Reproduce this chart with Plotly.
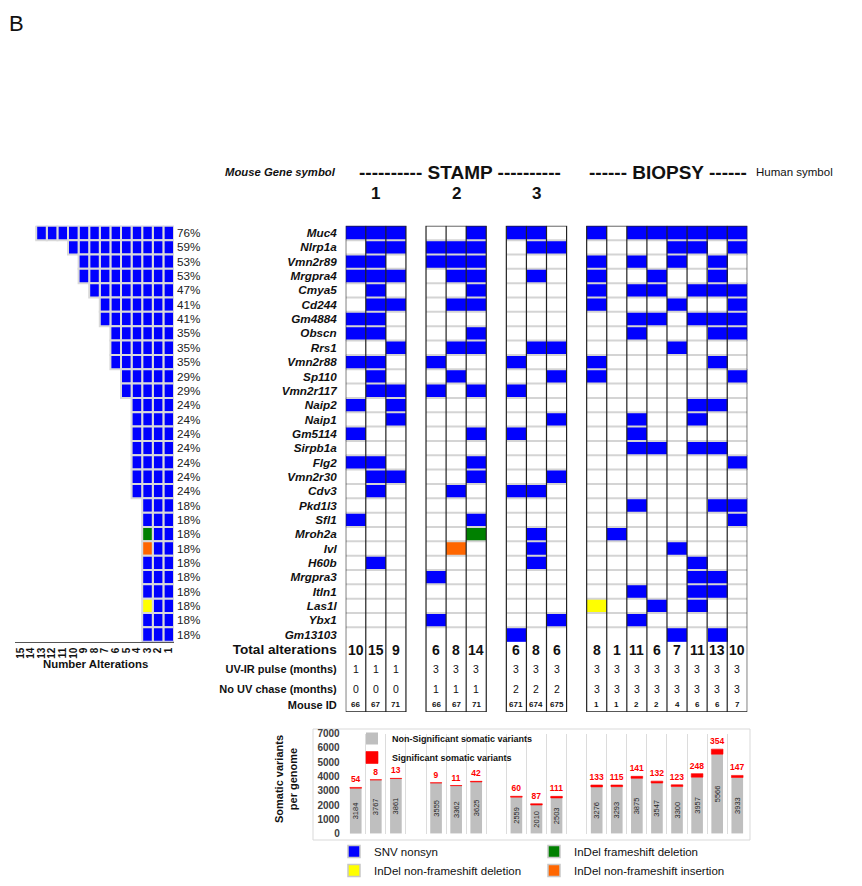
import plotly.graph_objects as go

W, H = 862, 886
OFF = 8                                  # page body margin of the browser
FW, FH = W - OFF, H                      # figure size (keeps legends fully inside the paper)
FONT = "Liberation Sans, Arial, Helvetica, sans-serif"

# ---------------- data ----------------
genes = ["Muc4", "Nlrp1a", "Vmn2r89", "Mrgpra4", "Cmya5", "Cd244", "Gm4884", "Obscn", "Rrs1",
         "Vmn2r88", "Sp110", "Vmn2r117", "Naip2", "Naip1", "Gm5114", "Sirpb1a", "Flg2", "Vmn2r30",
         "Cdv3", "Pkd1l3", "Sfl1", "Mroh2a", "Ivl", "H60b", "Mrgpra3", "Itln1", "Las1l", "Ybx1", "Gm13103"]
human_symbols = ["MUC4", "NLRP1", "No human ortholog", "No human ortholog", "CMYA5", "CD244",
                 "No human ortholog", "OBSCN", "RRS1", "No human ortholog", "SP110", "No human ortholog",
                 "NAIP", "NAIP", "No human ortholog", "SIRPB1", "FLG2", "No human ortholog", "CDV3",
                 "PKD1L3", "SFI1", "MROH2A", "IVL", "No human ortholog", "No human ortholog", "ITLN2",
                 "LAS1L", "YBX1", "No human ortholog"]
pct_labels = ["76%", "59%", "53%", "53%", "47%", "41%", "41%", "35%", "35%", "35%", "29%", "29%",
              "24%", "24%", "24%", "24%", "24%", "24%", "24%", "18%", "18%", "18%", "18%", "18%",
              "18%", "18%", "18%", "18%", "18%"]
waffle_ticks = list(range(1, 16))

# alteration codes: 0 none, 1 SNV nonsyn, 2 InDel frameshift deletion,
# 3 InDel non-frameshift deletion, 4 InDel non-frameshift insertion
stamp1 = ["111", "011", "110", "111", "010", "011", "110", "110", "001", "110", "010", "011", "101",
          "001", "100", "000", "110", "011", "010", "000", "100", "000", "000", "010", "000", "000",
          "000", "000", "000"]
stamp2 = ["001", "111", "111", "011", "001", "011", "000", "001", "011", "100", "010", "101", "000",
          "000", "001", "000", "001", "001", "010", "000", "001", "002", "040", "000", "100", "000",
          "000", "100", "000"]
stamp3 = ["110", "011", "000", "010", "000", "000", "000", "000", "011", "100", "001", "100", "000",
          "001", "100", "000", "000", "001", "110", "000", "000", "010", "010", "010", "000", "000",
          "000", "001", "100"]
biopsy = ["10111111", "00001101", "10101010", "10010010", "10110111", "10001001", "00110111",
          "00100011", "00001000", "10000010", "10000001", "00000000", "00000110", "00100100",
          "00100000", "00110110", "00000001", "00000000", "00000000", "00100011", "00000001",
          "01000000", "00001000", "00000100", "00000110", "00100110", "30010100", "00100000",
          "00001010"]

group_numbers = ["1", "2", "3"]
uv_pulse = [1, 1, 1, 3, 3, 3, 3, 3, 3, 3, 3, 3, 3, 3, 3, 3, 3]
no_uv_chase = [0, 0, 0, 1, 1, 1, 2, 2, 2, 3, 3, 3, 3, 3, 3, 3, 3]
mouse_id = ["66", "67", "71", "66", "67", "71", "671", "674", "675", "1", "1", "2", "2", "4", "6", "6", "7"]

nonsig_variants = [3184, 3767, 3861, 3555, 3362, 3625, 2559, 2010, 2503, 3276, 3293, 3875, 3547,
                   3300, 3957, 5566, 3933]
sig_variants = [54, 8, 13, 9, 11, 42, 60, 87, 111, 133, 115, 141, 132, 123, 248, 354, 147]
bar_yticks = [0, 1000, 2000, 3000, 4000, 5000, 6000, 7000]

alt_names = {"1": "SNV nonsyn", "2": "InDel frameshift deletion",
             "3": "InDel non-frameshift deletion", "4": "InDel non-frameshift insertion"}
alt_colors = {"0": "#ffffff", "1": "#0000ff", "2": "#008000", "3": "#ffff00", "4": "#ff6600"}


# ---------------- helpers ----------------
def px(x):
    return (x - OFF) / FW


def py(y):
    return 1 - (y - OFF) / FH


groups = [stamp1, stamp2, stamp3, biopsy]
col_pos, spans = [], []
start = 0
for g in groups:
    n = len(g[0])
    col_pos += list(range(start, start + n))
    spans.append((start, start + n - 1))
    start += n + 1
ncols = start - 1
ngenes = len(genes)
calls = ["".join(g[i] for g in groups) for i in range(ngenes)]
nsamp = len(calls[0])

z = [[None] * ncols for _ in range(ngenes)]
for i, row in enumerate(calls):
    for j, c in enumerate(row):
        z[i][col_pos[j]] = int(c)

cs = []
for k, code in enumerate("01234"):
    cs.append([k / 5, alt_colors[code]])
    cs.append([(k + 1) / 5, alt_colors[code]])

fig = go.Figure()

# oncoprint
fig.add_trace(go.Heatmap(z=z, x=list(range(ncols)), y=list(range(ngenes)), zmin=-0.5, zmax=4.5,
                         colorscale=cs, showscale=False, hoverongaps=False,
                         xaxis="x", yaxis="y"))

# waffle (number of alterations per gene)
wy, wb, wc = [], [], []
for i, row in enumerate(calls):
    codes = sorted([c for c in row if c != "0"], key=lambda c: (c != "1", c))
    for k, c in enumerate(codes):
        wy.append(i)
        wb.append(k + 0.5)
        wc.append(alt_colors[c])
fig.add_trace(go.Bar(y=wy, x=[1] * len(wy), base=wb, orientation="h", width=1,
                     marker=dict(color=wc, line=dict(color="#d9d9d9", width=2)),
                     showlegend=False, xaxis="x2", yaxis="y2", hoverinfo="skip"))

# bottom bar chart
fig.add_trace(go.Bar(x=col_pos, y=nonsig_variants, width=0.58, name="Non-Significant somatic variants",
                     marker=dict(color="#bfbfbf", line=dict(width=0)),
                     text=[str(v) for v in nonsig_variants], textposition="inside", textangle=-90,
                     insidetextanchor="middle", constraintext="none",
                     textfont=dict(size=7.5, color="#262626", family=FONT),
                     xaxis="x3", yaxis="y4", legend="legend"))
fig.add_trace(go.Bar(x=col_pos, y=sig_variants, base=nonsig_variants, width=0.58,
                     name="Significant somatic variants",
                     marker=dict(color="#ff0000", line=dict(color="#ff0000", width=0.6)),
                     text=[str(v) for v in sig_variants], textposition="outside", textangle=0,
                     constraintext="none",
                     textfont=dict(size=8.5, color="#ff0000", family=FONT, weight="bold"),
                     cliponaxis=False, xaxis="x3", yaxis="y4", legend="legend"))

# category legend entries
for code, lg in [("1", "legend2"), ("3", "legend2"), ("2", "legend3"), ("4", "legend3")]:
    fig.add_trace(go.Bar(x=[None], y=[None], name=alt_names[code], showlegend=True,
                         marker=dict(color=alt_colors[code], line=dict(color="#c8c8c8", width=1.5)),
                         xaxis="x3", yaxis="y4", legend=lg))

# ---------------- axes ----------------
Y_TOTAL, Y_UV, Y_CHASE, Y_ID, Y_BOTTOM = 29.08, 30.43, 31.82, 32.91, 33.4
onco_dom_x = [px(345.7), px(747.3)]
onco_dom_y = [py(711.96), py(225.83)]

left_ticks = ["<b><i>%s</i></b>" % g for g in genes] + [
    "<b><span style='font-size:13.6px'>Total alterations</span></b>",
    "<b><span style='font-size:11px'>UV-IR pulse (months)</span></b>",
    "<b><span style='font-size:11px'>No UV chase (months)</span></b>",
    "<b><span style='font-size:11px'>Mouse ID</span></b>"]

fig.update_layout(
    width=FW, height=FH, autosize=False, margin=dict(l=0, r=0, t=0, b=0, pad=0),
    paper_bgcolor="white", plot_bgcolor="white", barmode="overlay",
    font=dict(family=FONT, color="#111", size=11),
    xaxis=dict(domain=onco_dom_x, range=[-0.5, ncols - 0.5], anchor="y", showgrid=False,
               zeroline=False, showticklabels=False, ticks="", automargin=False),
    yaxis=dict(domain=onco_dom_y, range=[Y_BOTTOM, -0.5], anchor="x", showgrid=False, zeroline=False,
               tickvals=list(range(ngenes)) + [Y_TOTAL, Y_UV, Y_CHASE, Y_ID], ticktext=left_ticks,
               ticks="", ticklabelstandoff=8, tickfont=dict(size=11.7, color="#111"),
               automargin=False),
    yaxis3=dict(overlaying="y", side="right", anchor="x", range=[Y_BOTTOM, -0.5], showgrid=False,
                zeroline=False, tickvals=list(range(ngenes)),
                ticktext=["<i>%s</i>" % h for h in human_symbols], ticks="", ticklabelstandoff=7,
                tickfont=dict(size=11.6, color="#111"), automargin=False),
    xaxis2=dict(domain=[px(15), px(174)], range=[15.5, 0.5], anchor="y2", tickvals=waffle_ticks,
                tickangle=-90, ticks="", showline=True, linecolor="#555", linewidth=1,
                showgrid=False, zeroline=False, layer="below traces", automargin=False,
                tickfont=dict(size=10, color="#111", weight="bold"), ticklabelstandoff=1),
    yaxis2=dict(domain=[py(641.7), py(225.83)], range=[ngenes - 0.5, -0.5], anchor="x2", side="right",
                tickvals=list(range(ngenes)), ticktext=pct_labels, ticks="", showgrid=False,
                zeroline=False, ticklabelstandoff=2, tickfont=dict(size=11.7, color="#222"),
                automargin=False),
    xaxis3=dict(domain=onco_dom_x, range=[-0.5, ncols - 0.5], anchor="y4",
                tickvals=[k - 0.5 for k in range(ncols + 1)], showticklabels=False, ticks="",
                showgrid=True, gridcolor="#dcdcdc", gridwidth=1, zeroline=False, automargin=False),
    yaxis4=dict(domain=[py(833.7), py(733.7)], range=[0, 7000], anchor="x3", tickvals=bar_yticks,
                showgrid=False, zeroline=False, ticks="", ticklabelstandoff=5, automargin=False,
                tickfont=dict(size=10, color="#404040", weight="bold")),
    legend=dict(x=px(352), y=py(724), xanchor="left", yanchor="top", bgcolor="rgba(0,0,0,0)",
                font=dict(size=9, color="#111", weight="bold"), tracegroupgap=0, traceorder="normal"),
    legend2=dict(x=px(334), y=py(837), xanchor="left", yanchor="top", bgcolor="rgba(0,0,0,0)",
                 font=dict(size=11.5, color="#111"), tracegroupgap=0, traceorder="normal"),
    legend3=dict(x=px(534), y=py(837), xanchor="left", yanchor="top", bgcolor="rgba(0,0,0,0)",
                 font=dict(size=11.5, color="#111"), tracegroupgap=0, traceorder="normal"),
)

# ---------------- grid lines / borders ----------------
shapes = []
for (s, e) in spans:
    for i in range(ngenes - 1):
        shapes.append(dict(type="line", xref="x", yref="y", x0=s - 0.5, x1=e + 0.5, y0=i + 0.5,
                           y1=i + 0.5, line=dict(color="#d4d4d4", width=2), layer="above"))
for (s, e) in spans:
    for c in range(s, e):
        shapes.append(dict(type="line", xref="x", yref="y", x0=c + 0.5, x1=c + 0.5, y0=-0.5,
                           y1=Y_BOTTOM, line=dict(color="#222", width=1.2), layer="above"))
    shapes.append(dict(type="rect", xref="x", yref="y", x0=s - 0.5, x1=e + 0.5, y0=-0.5,
                       y1=Y_BOTTOM, line=dict(color="#222", width=1.2), layer="above"))
shapes.append(dict(type="rect", xref="paper", yref="paper", x0=px(313), x1=px(750), y0=py(840),
                   y1=py(729), line=dict(color="#d9d9d9", width=1), layer="below"))
fig.update_layout(shapes=shapes)


# ---------------- annotations ----------------
def note(text, x, y, size, xref="paper", yref="paper", xanchor="center", yanchor="middle", **kw):
    return dict(text=text, x=x, y=y, xref=xref, yref=yref, xanchor=xanchor, yanchor=yanchor,
                showarrow=False, font=dict(size=size), **kw)


ann = [
    note("B", px(7), py(9), 22, xanchor="left", yanchor="top"),
    note("<b><i>Mouse Gene symbol</i></b>", px(338), py(172), 11.3, xanchor="right"),
    note("<b>---------- STAMP ----------</b>", px(460), py(172), 19),
    note("<b>------ BIOPSY ------</b>", px(667.5), py(172), 19),
    note("Human symbol", px(754), py(172), 11.5, xanchor="left"),
    note("<b>Number Alterations</b>", px(95), py(664), 11.4),
    note("<b>Somatic variants<br>per genome</b>", px(286), py(779), 11, textangle=-90),
]
for gnum, (s, e) in zip(group_numbers, spans):
    ann.append(note("<b>%s</b>" % gnum, (s + e) / 2, py(193), 17, xref="x"))

totals = [sum(1 for i in range(ngenes) if calls[i][j] != "0") for j in range(nsamp)]
for j in range(nsamp):
    xc = col_pos[j]
    ann.append(note("<b>%d</b>" % totals[j], xc, Y_TOTAL, 14, xref="x", yref="y"))
    ann.append(note(str(uv_pulse[j]), xc, Y_UV, 10.5, xref="x", yref="y"))
    ann.append(note(str(no_uv_chase[j]), xc, Y_CHASE, 10.5, xref="x", yref="y"))
    ann.append(note("<b>%s</b>" % mouse_id[j], xc, Y_ID, 8, xref="x", yref="y"))

fig.update_layout(annotations=ann)

fig.write_html("out.html")
